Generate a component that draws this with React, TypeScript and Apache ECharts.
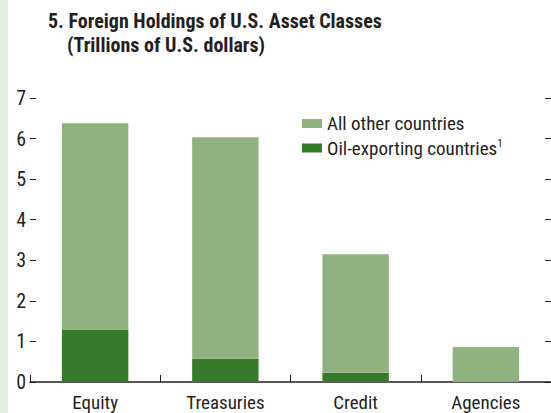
import React, { useEffect, useRef } from "react";
import * as echarts from "echarts";

const categories = ["Equity", "Treasuries", "Credit", "Agencies"];
const oilExporting = [1.28, 0.57, 0.23, 0];
const allOther = [5.1, 5.46, 2.92, 0.86];
const yTicks = [0, 1, 2, 3, 4, 5, 6, 7];

const FONT = "'Liberation Sans Narrow', 'Arial Narrow', 'Roboto Condensed', sans-serif";
const LIGHT = "#8fb27f";
const DARK = "#367a2c";
const INK = "#231f20";

export default function App() {
  const ref = useRef<HTMLDivElement>(null);
  useEffect(() => {
    if (!ref.current) return;
    const chart = echarts.init(ref.current, undefined, { renderer: "svg" });
    chart.setOption({
      animation: false,
      backgroundColor: "#ffffff",
      textStyle: { fontFamily: FONT },
      graphic: [
        { type: "rect", left: 0, top: 0, shape: { width: 8, height: 413 }, style: { fill: "#e3eee1" }, silent: true },
        {
          type: "text",
          left: 48,
          top: 11,
          style: { text: "5. Foreign Holdings of U.S. Asset Classes", font: `bold 20px ${FONT}`, fill: INK },
        },
        {
          type: "text",
          left: 67,
          top: 35,
          style: { text: "(Trillions of U.S. dollars)", font: `bold 20px ${FONT}`, fill: INK },
        },
      ],
      legend: {
        left: 297,
        top: 109,
        orient: "vertical",
        itemWidth: 20,
        itemHeight: 9,
        itemGap: 5,
        data: ["All other countries", "Oil-exporting countries"],
        formatter: (name: string) =>
          name === "Oil-exporting countries" ? "{t|Oil-exporting countries}{s|1}" : "{t|" + name + "}",
        textStyle: {
          fontFamily: FONT,
          rich: {
            t: { fontSize: 19, lineHeight: 20, color: INK, fontFamily: FONT },
            s: { fontSize: 11, lineHeight: 20, color: INK, fontFamily: FONT, verticalAlign: "top", padding: [0, 0, 9, 0] },
          },
        },
        itemStyle: { borderWidth: 0 },
        selectedMode: false,
        icon: "rect",
      },
      grid: { left: 30, right: 0, top: 98, bottom: 31 },
      xAxis: {
        type: "category",
        data: categories,
        boundaryGap: true,
        axisLine: { show: true, lineStyle: { color: INK, width: 1.5 } },
        axisTick: { show: true, inside: true, length: 7, lineStyle: { color: INK } },
        axisLabel: { fontSize: 19, color: INK, fontFamily: FONT, margin: 11 },
      },
      yAxis: [
        {
          type: "value",
          min: 0,
          max: 7,
          interval: 1,
          axisLine: { show: false },
          axisTick: { show: true, inside: true, length: 6, lineStyle: { color: INK } },
          axisLabel: {
            fontSize: 20,
            color: INK,
            fontFamily: FONT,
            margin: 4,
            formatter: (v: number) => (yTicks.includes(v) ? String(v) : ""),
          },
          splitLine: { show: false },
        },
        {
          type: "value",
          min: 0,
          max: 7,
          interval: 1,
          position: "right",
          axisLine: { show: false },
          axisTick: { show: true, inside: true, length: 6, lineStyle: { color: INK } },
          axisLabel: { show: false },
          splitLine: { show: false },
        },
      ],
      series: [
        {
          name: "Oil-exporting countries",
          type: "bar",
          stack: "total",
          data: oilExporting,
          barWidth: "51%",
          itemStyle: { color: DARK },
          z: 2,
        },
        {
          name: "All other countries",
          type: "bar",
          stack: "total",
          data: allOther,
          barWidth: "51%",
          itemStyle: { color: LIGHT },
          z: 2,
        },
      ],
    });
    return () => chart.dispose();
  }, []);
  return <div ref={ref} style={{ width: 551, height: 413, position: "absolute", left: 0, top: 0 }} />;
}
